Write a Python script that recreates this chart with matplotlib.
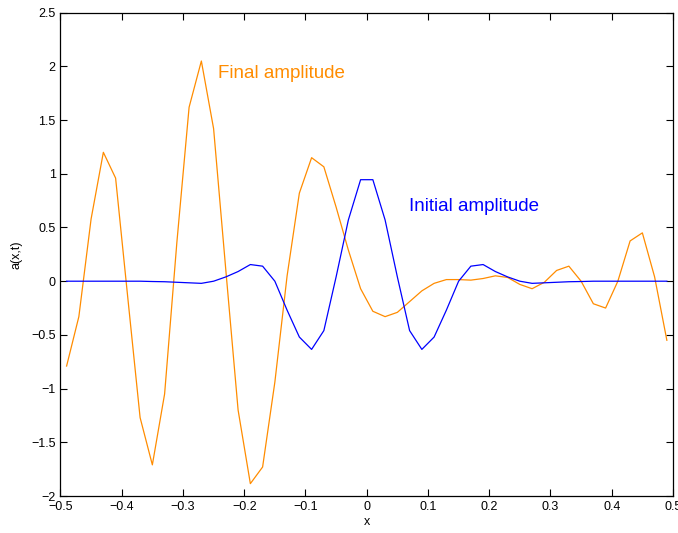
import numpy as np
import matplotlib.pyplot as plt

plt.rcParams['font.family'] = ['Liberation Sans', 'DejaVu Sans']

# grid points (cell centres)
x = np.arange(-0.49, 0.50, 0.02)

initial_amp = [0, 0, 0, 0, 0, 0, 0, -0.003, -0.005, -0.01,
               -0.015, -0.02, 0.0, 0.04, 0.09, 0.155, 0.14, 0.0, -0.27, -0.52,
               -0.635, -0.46, 0.04, 0.57, 0.945, 0.945, 0.57, 0.04, -0.46, -0.635,
               -0.52, -0.27, 0.0, 0.14, 0.155, 0.09, 0.04, 0.0, -0.02, -0.015,
               -0.01, -0.005, -0.003, 0, 0, 0, 0, 0, 0, 0]

final_amp = [-0.79, -0.33, 0.58, 1.20, 0.96, -0.16, -1.27, -1.71, -1.05, 0.36,
             1.62, 2.05, 1.42, 0.10, -1.20, -1.885, -1.73, -0.94, 0.05, 0.82,
             1.15, 1.065, 0.69, 0.29, -0.07, -0.28, -0.33, -0.29, -0.19, -0.09,
             -0.02, 0.015, 0.015, 0.01, 0.025, 0.05, 0.035, -0.03, -0.07, -0.01,
             0.10, 0.14, 0.0, -0.21, -0.25, 0.0, 0.375, 0.45, 0.04, -0.55]

xticks = [-0.5, -0.4, -0.3, -0.2, -0.1, 0, 0.1, 0.2, 0.3, 0.4, 0.5]
xticklabels = ['\u22120.5', '\u22120.4', '\u22120.3', '\u22120.2', '\u22120.1', '0',
               '0.1', '0.2', '0.3', '0.4', '0.5']
yticks = [-2, -1.5, -1, -0.5, 0, 0.5, 1, 1.5, 2, 2.5]
yticklabels = ['\u22122', '\u22121.5', '\u22121', '\u22120.5', '0',
               '0.5', '1', '1.5', '2', '2.5']

orange = '#ff8c00'
blue = '#0000ff'

fig = plt.figure(figsize=(6.78, 5.33), dpi=100)
ax = fig.add_axes([0.0892, 0.0694, 0.9034, 0.9068])

ax.plot(x, final_amp, color=orange, lw=0.9)
ax.plot(x, initial_amp, color=blue, lw=0.9)

ax.text(-0.243, 1.93, 'Final amplitude', color=orange, fontsize=13.5, va='center', ha='left')
ax.text(0.0696, 0.70, 'Initial amplitude', color=blue, fontsize=13.5, va='center', ha='left')

ax.set_xlim(-0.5, 0.5)
ax.set_ylim(-2, 2.5)
ax.set_xticks(xticks)
ax.set_xticklabels(xticklabels)
ax.set_yticks(yticks)
ax.set_yticklabels(yticklabels)
ax.tick_params(direction='in', top=True, right=True, length=5, width=0.8, labelsize=9)
for s in ax.spines.values():
    s.set_linewidth(0.9)

ax.set_xlabel('x', fontsize=9, labelpad=2)
ax.set_ylabel('a(x,t)', fontsize=9, labelpad=6)

fig.savefig('out.png', dpi=100)
